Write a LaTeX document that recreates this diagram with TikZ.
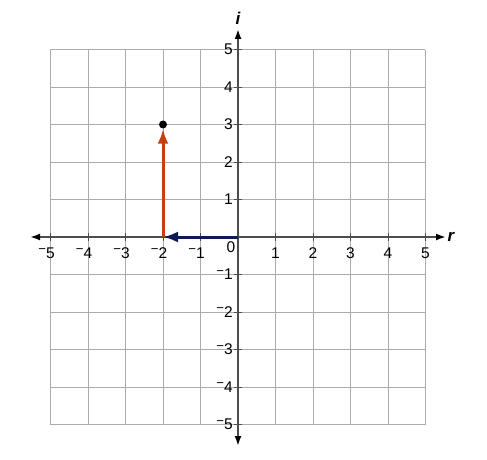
\documentclass[tikz,border=0pt]{standalone}
\usepackage{fontspec,tikz,graphicx}
\setmainfont{Liberation Sans}
\usetikzlibrary{arrows.meta}
\definecolor{gridgray}{HTML}{ABABAB}
\definecolor{axisgray}{HTML}{4D4D4D}
\definecolor{realvec}{HTML}{0B1B57}
\definecolor{imagvec}{HTML}{C2410E}
\newcommand{\negnum}[1]{\llap{\raisebox{.55ex}{\scalebox{.85}{−}}}#1}
\begin{document}
\begin{tikzpicture}[x=1pt,y=-1pt,
  gridline/.style={gridgray,line width=0.8pt},
  axisline/.style={axisgray,line width=1.8pt,{Latex[black,length=10pt,width=7pt]}-{Latex[black,length=10pt,width=7pt]}},
  tickmark/.style={axisgray,line width=1pt},
  ticklbl/.style={inner sep=0pt,font=\fontsize{15.5}{18}\selectfont},
  axislbl/.style={inner sep=0pt,font=\fontsize{17}{20}\selectfont\bfseries\itshape},
  vecline/.style={line width=3pt,-{Latex[length=15pt,width=11pt]}}]
\path[use as bounding box] (0,0) rectangle (487,460);
% grid
\foreach \k in {-5,...,5} {
  \draw[gridline] ({238+37.5*\k},50) -- ({238+37.5*\k},425);
  \draw[gridline] (50,{237+37.5*\k}) -- (425,{237+37.5*\k});
}
% axes
\coordinate (xl) at (30,237);
\coordinate (xr) at (446,237);
\coordinate (yt) at (238,29);
\coordinate (yb) at (238,446);
\draw[axisline] (xl) -- (xr);
\draw[axisline] (yb) -- (yt);
\node[axislbl] (rlbl) at (451,237) {r};
\node[axislbl] (ilbl) at (238,18) {i};
% ticks
\foreach \k in {1,...,5} {
  \draw[tickmark] ({238+37.5*\k},233) -- ({238+37.5*\k},241);
  \draw[tickmark] ({238-37.5*\k},233) -- ({238-37.5*\k},241);
  \draw[tickmark] (234,{237-37.5*\k}) -- (242,{237-37.5*\k});
  \draw[tickmark] (234,{237+37.5*\k}) -- (242,{237+37.5*\k});
  \node[ticklbl] (xp\k) at ({238+37.5*\k},253) {\k};
  \node[ticklbl] (xn\k) at ({238-37.5*\k},253) {\negnum{\k}};
  \node[ticklbl,anchor=east] (yp\k) at (233,{237-37.5*\k}) {\k};
  \node[ticklbl,anchor=east] (yn\k) at (233,{237+37.5*\k}) {\negnum{\k}};
}
\node[ticklbl] (zero) at (231,247) {0};
% vectors
\coordinate (O) at (238,237);
\coordinate (P) at (163,237);
\node[circle,fill=black,inner sep=0pt,minimum size=8pt] (dot) at (163,124.5) {};
\draw[vecline,imagvec] (P) -- (dot);
\draw[vecline,realvec] (O) -- (P);
\end{tikzpicture}
\end{document}
